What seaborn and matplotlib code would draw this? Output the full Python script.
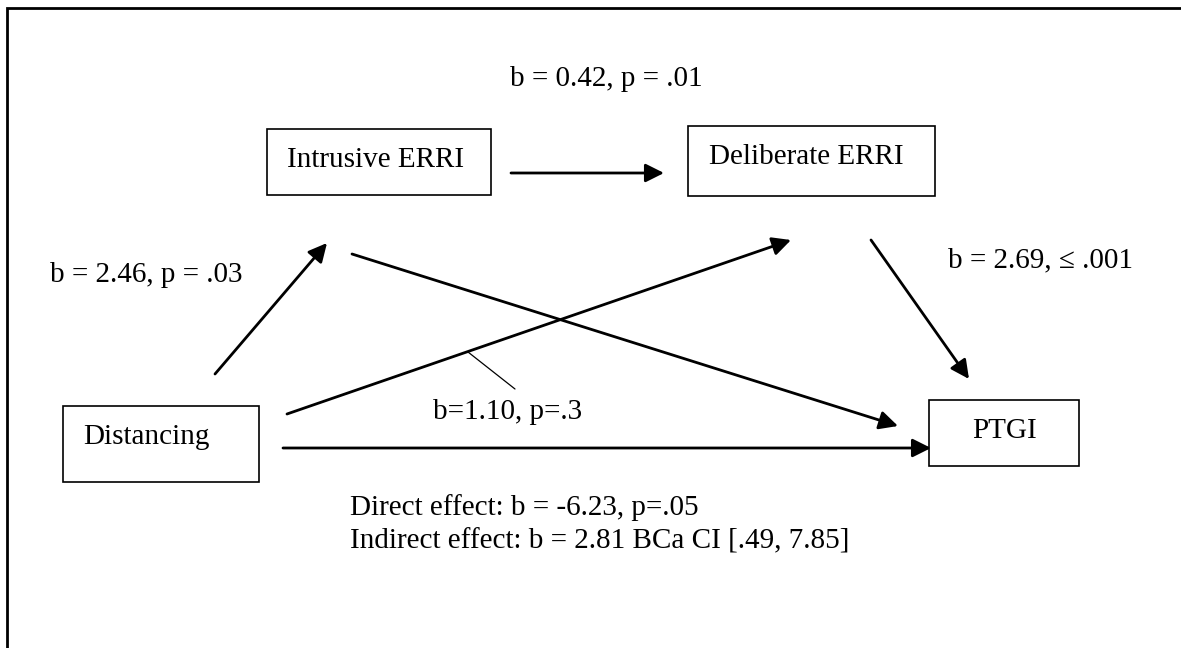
import matplotlib
matplotlib.use("Agg")
import matplotlib.pyplot as plt
import seaborn as sns
from matplotlib.patches import Rectangle

# path model: nodes, paths and their coefficients
nodes = ["Intrusive ERRI", "Deliberate ERRI", "Distancing", "PTGI"]
paths = [("Intrusive ERRI", "Deliberate ERRI"),
         ("Distancing", "Intrusive ERRI"),
         ("Intrusive ERRI", "PTGI"),
         ("Distancing", "Deliberate ERRI"),
         ("Deliberate ERRI", "PTGI"),
         ("Distancing", "PTGI")]
path_labels = ["b = 0.42, p = .01", "b = 2.46, p = .03", "b = 2.69, \u2264 .001", "b=1.10, p=.3"]
effect_notes = ["Direct effect: b = -6.23, p=.05",
                "Indirect effect: b = 2.81 BCa CI [.49, 7.85]"]

# layout in pixel space (x, y from top-left)
box_xy = {"Intrusive ERRI": (267, 129, 224, 66),
          "Deliberate ERRI": (688, 126, 247, 70),
          "Distancing": (63, 406, 196, 76),
          "PTGI": (929, 400, 150, 66)}
box_text = {"Intrusive ERRI": (287, 167),
            "Deliberate ERRI": (709, 164),
            "Distancing": (83, 444),
            "PTGI": (972, 438)}
arrow_xy = [((511, 173), (664, 173)),
            ((215, 374), (327, 243)),
            ((352, 254), (898, 426)),
            ((287, 414), (791, 240)),
            ((871, 240), (969, 379)),
            ((283, 448), (931, 448))]
label_xy = [(510, 86), (50, 282), (948, 267), (433, 419)]
note_xy = [(350, 515), (350, 548)]

sns.set_theme(style="white")
plt.rcParams["font.family"] = ["Liberation Serif", "DejaVu Serif"]

fig = plt.figure(figsize=(11.81, 6.48), dpi=100)
ax = fig.add_axes([0, 0, 1, 1])
ax.set_xlim(0, 1181)
ax.set_ylim(648, 0)
ax.axis("off")

fs = 21

# outer frame (left and top only visible)
ax.plot([7, 7, 1181], [648, 8, 8], color="black", lw=2, solid_joinstyle="miter")

for n in nodes:
    x, y, w, h = box_xy[n]
    ax.add_patch(Rectangle((x, y), w, h, fill=False, edgecolor="black", lw=1.2))
    tx, ty = box_text[n]
    ax.text(tx, ty, n, fontsize=fs, va="baseline", ha="left", color="black")

for (start, end) in arrow_xy:
    ax.annotate("", xy=end, xytext=start,
                arrowprops=dict(arrowstyle="-|>,head_length=0.56,head_width=0.28",
                                mutation_scale=20, color="black", lw=2.0,
                                shrinkA=0, shrinkB=0))

# leader line for the Distancing -> Deliberate coefficient
ax.plot([468, 515], [352, 389], color="black", lw=0.9)

for lab, (tx, ty) in zip(path_labels, label_xy):
    ax.text(tx, ty, lab, fontsize=fs, va="baseline", ha="left", color="black")

for note, (tx, ty) in zip(effect_notes, note_xy):
    ax.text(tx, ty, note, fontsize=fs, va="baseline", ha="left", color="black")

fig.savefig("out.png", dpi=100, facecolor="white")
